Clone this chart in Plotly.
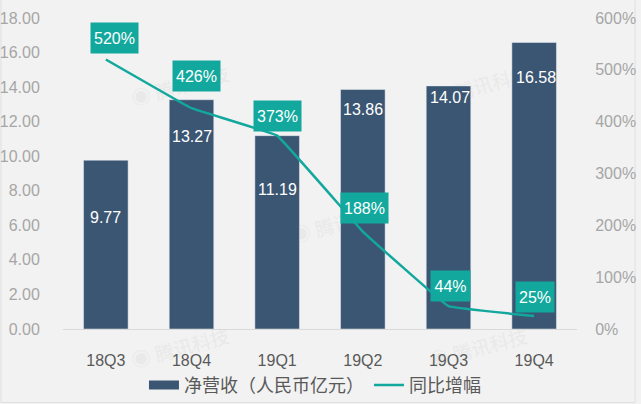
import plotly.graph_objects as go

quarters = ["18Q3", "18Q4", "19Q1", "19Q2", "19Q3", "19Q4"]
revenue = [9.77, 13.27, 11.19, 13.86, 14.07, 16.58]
growth = [520, 426, 373, 188, 44, 25]
growth_labels = ["520%", "426%", "373%", "188%", "44%", "25%"]
left_ticks = [0, 2, 4, 6, 8, 10, 12, 14, 16, 18]
right_ticks = [0, 100, 200, 300, 400, 500, 600]
right_labels = ["0%", "100%", "200%", "300%", "400%", "500%", "600%"]
watermark = "◉ 腾讯科技"

# label placement, kept apart from the values (pixels relative to the mark)
bar_label_drop = [57, 37, 54, 20, 12, 35]
bar_label_dx = [0, 0, 0, 0, 1, 2]
pct_shift = [(9, 21.5), (4.5, 32), (0.5, 19.7), (1.5, 23.5), (1.5, 20), (1, 19)]
pct_width = [47, 47, 47, 47, 39, 38]
wm_centres = [(180, 85), (480, 85), (340, 222), (180, 347), (478, 347)]

BAR = "#3b5672"
TEAL = "#12a89d"
BG = "#f2f2f2"
FONT = "Liberation Sans, Noto Sans CJK SC, sans-serif"
L, R, T, B = 63, 64, 18, 75
PW, PH = 641 - L - R, 404 - T - B

fig = go.Figure()
fig.add_bar(x=quarters, y=revenue, name="净营收（人民币亿元）", marker_color=BAR, width=0.52,
            yaxis="y", showlegend=False, legendgroup="rev")
fig.add_scatter(x=[None], y=[None], name="净营收（人民币亿元）", mode="lines", yaxis="y",
                line=dict(color=BAR, width=9), legendgroup="rev")
fig.add_scatter(x=quarters, y=growth, name="同比增幅", mode="lines", yaxis="y2",
                line=dict(color=TEAL, width=2.5, shape="spline", smoothing=0.15))
for q, v, d, dx in zip(quarters, revenue, bar_label_drop, bar_label_dx):
    fig.add_annotation(x=q, y=v, yref="y", text=f"{v:.2f}", showarrow=False, yshift=-d, xshift=dx,
                       font=dict(color="white", size=16, family=FONT))
for q, g, t, (dx, dy), w in zip(quarters, growth, growth_labels, pct_shift, pct_width):
    fig.add_annotation(x=q, y=g, yref="y2", text=t, showarrow=False, xshift=dx, yshift=dy,
                       bgcolor=TEAL, width=w, height=30, borderpad=0, valign="middle",
                       font=dict(color="white", size=16, family=FONT))
for px, py in wm_centres:
    x, y = (px - L) / PW, (404 - B - py) / PH
    fig.add_shape(type="rect", xref="paper", yref="paper", layer="below",
                  x0=x - 0.08, x1=x + 0.08, y0=y - 0.05, y1=y + 0.05, line_width=0,
                  fillcolor="rgba(0,0,0,0)",
                  label=dict(text=watermark, textposition="middle center", textangle=-15,
                             font=dict(size=19, color="#e9e9e9", family=FONT)))
fig.add_shape(type="rect", xref="paper", yref="paper", layer="below",
              x0=(1 - L) / PW, x1=(635 - L) / PW, y0=(329 - 402.5) / PH, y1=(329 + 20) / PH,
              line=dict(color="#e0e0e0", width=1), fillcolor="rgba(0,0,0,0)")
fig.update_layout(
    width=641, height=404, margin=dict(l=L, r=R, t=T, b=B, autoexpand=False),
    paper_bgcolor=BG, plot_bgcolor="rgba(0,0,0,0)", font=dict(family=FONT, color="#595959", size=16),
    showlegend=True,
    legend=dict(orientation="h", xref="container", yref="container", x=0.2246, xanchor="left",
                y=0.0923, yanchor="top", itemwidth=30,
                font=dict(size=18, color="#595959", family=FONT), traceorder="normal",
                bgcolor="rgba(0,0,0,0)", itemclick=False, itemdoubleclick=False),
    xaxis=dict(showgrid=False, showline=True, linecolor="#d9d9d9", ticks="outside", ticklen=17,
               tickcolor="rgba(0,0,0,0)", tickfont=dict(size=16, color="#595959")),
    yaxis=dict(range=[0, 18], tickvals=left_ticks, tickformat=".2f", showgrid=False, zeroline=False,
               ticks="outside", ticklen=19, tickcolor="rgba(0,0,0,0)", tickfont=dict(size=16, color="#a6a6a6")),
    yaxis2=dict(range=[0, 600], tickvals=right_ticks, ticktext=right_labels, overlaying="y", side="right",
                showgrid=False, zeroline=False, ticks="outside", ticklen=14, tickcolor="rgba(0,0,0,0)",
                tickfont=dict(size=16, color="#a6a6a6")),
)
fig.write_html("out.html", config=dict(displayModeBar=False),
               post_script="document.body.style.margin='0';document.body.style.background='#f2f2f2';")
